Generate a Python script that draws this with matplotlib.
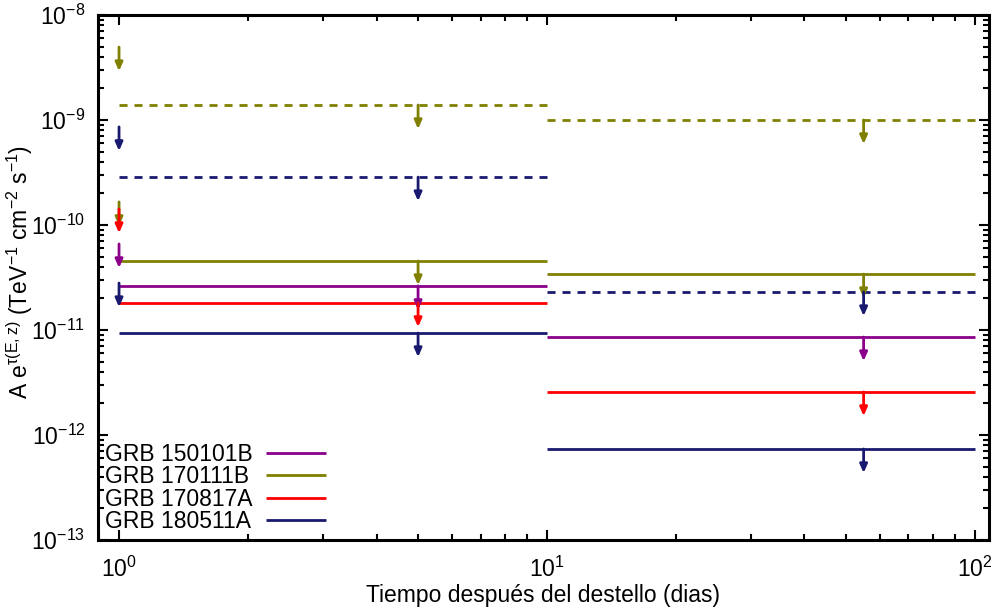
#!/usr/bin/python
"""
Upper limits of A e^tau(E,z) for four GRBs in two time bins (1-10 and 10-100 days)
"""

import matplotlib
matplotlib.use('Agg')
import numpy as np
from matplotlib import pyplot as plt

# time bins (days) and where the upper-limit arrows sit
bin_lo = [1, 10]
bin_hi = [10, 100]
arrow_x = [5, 55]

# solid lines, one value per bin
grb_names = ['GRB 150101B', 'GRB 170111B', 'GRB 170817A', 'GRB 180511A']
grb_colors = ['#8b008b', '#808000', '#ff0000', '#191970']
solid_150101B = [2.63e-11, 8.57e-12]
solid_170111B = [4.54e-11, 3.41e-11]
solid_170817A = [1.81e-11, 2.57e-12]
solid_180511A = [9.36e-12, 7.36e-13]

# dashed lines (only two of them)
dashed_170111B = [1.39e-9, 1.0e-9]
dashed_180511A = [2.86e-10, 2.3e-11]

# lone limits drawn at t = 1 day
early_x = 1
early_150101B = [6.6e-11]
early_170111B = [4.95e-9, 1.66e-10]
early_170817A = [1.42e-10]
early_180511A = [8.6e-10, 2.8e-11]

ARROW_DROP = 0.59   # arrow length as a factor in y

plt.rcParams['font.family'] = ['Liberation Sans', 'DejaVu Sans']
plt.rcParams['mathtext.fontset'] = 'custom'
plt.rcParams['mathtext.rm'] = 'Liberation Sans'
plt.rcParams['mathtext.it'] = 'Liberation Sans'
plt.rcParams['mathtext.default'] = 'regular'
plt.rcParams['font.size'] = 16.5

LW = 2.0


def arrow(ax, x, y, color):
    ax.annotate('', xy=(x, y * ARROW_DROP), xytext=(x, y),
                arrowprops=dict(arrowstyle='-|>,head_length=0.5,head_width=0.22',
                                color=color, lw=LW, shrinkA=0, shrinkB=0,
                                mutation_scale=10))


def main():
    fig = plt.figure(figsize=(9.97, 6.14), dpi=100)
    ax = fig.add_axes([98 / 997, 74 / 614, 891 / 997, 525 / 614])

    solids = [solid_150101B, solid_170111B, solid_170817A, solid_180511A]
    dashed = {1: dashed_170111B, 3: dashed_180511A}
    early = [early_150101B, early_170111B, early_170817A, early_180511A]

    handles = []
    for i, vals in enumerate(solids):
        c = grb_colors[i]
        h = ax.hlines(vals, bin_lo, bin_hi, colors=c, lw=LW, label=grb_names[i])
        handles.append(h)
        for x, v in zip(arrow_x, vals):
            arrow(ax, x, v, c)
        if i in dashed:
            ax.hlines(dashed[i], bin_lo, bin_hi, colors=c, lw=LW,
                      linestyles=(0, (2.9, 2.5)))
            for x, v in zip(arrow_x, dashed[i]):
                arrow(ax, x, v, c)
        for v in early[i]:
            arrow(ax, early_x, v, c)

    ax.set_xscale('log')
    ax.set_yscale('log')
    ax.set_xlim(0.893, 108)
    ax.set_ylim(1e-13, 1e-8)

    for s in ax.spines.values():
        s.set_linewidth(2.2)
    ax.tick_params(which='both', direction='in', top=True, right=True, width=1.5)
    ax.tick_params(which='major', length=7, pad=9)
    ax.tick_params(which='minor', length=4)
    ax.tick_params(axis='x', which='major', pad=12)

    ax.set_xlabel('Tiempo después del destello (dias)', labelpad=1.5)
    ax.set_ylabel(r'A e$^{\tau(E,z)}$ (TeV$^{-1}$ cm$^{-2}$ s$^{-1}$)')
    ax.yaxis.set_label_coords(-0.0707, 0.51)

    leg = ax.legend(handles=handles, loc='lower left', frameon=False, markerfirst=False,
                    handlelength=2.6, labelspacing=-0.025,
                    borderaxespad=0.0, borderpad=0.3, handletextpad=0.6)

    # gnuplot style key: labels left aligned, samples lined up on the right
    try:
        fig.canvas.draw()
        r = fig.canvas.get_renderer()
        widths = [t.get_window_extent(r).width for t in leg.get_texts()]
        column = leg._legend_handle_box.get_children()[0]
        for item, w in zip(column.get_children(), widths):
            item.sep += (max(widths) - w) * 72.0 / fig.dpi
        column.align = 'left'
    except Exception as e:
        print('legend tweak skipped: %s' % e)

    plt.savefig('out.png', dpi=100)


if __name__ == "__main__":
    main()
